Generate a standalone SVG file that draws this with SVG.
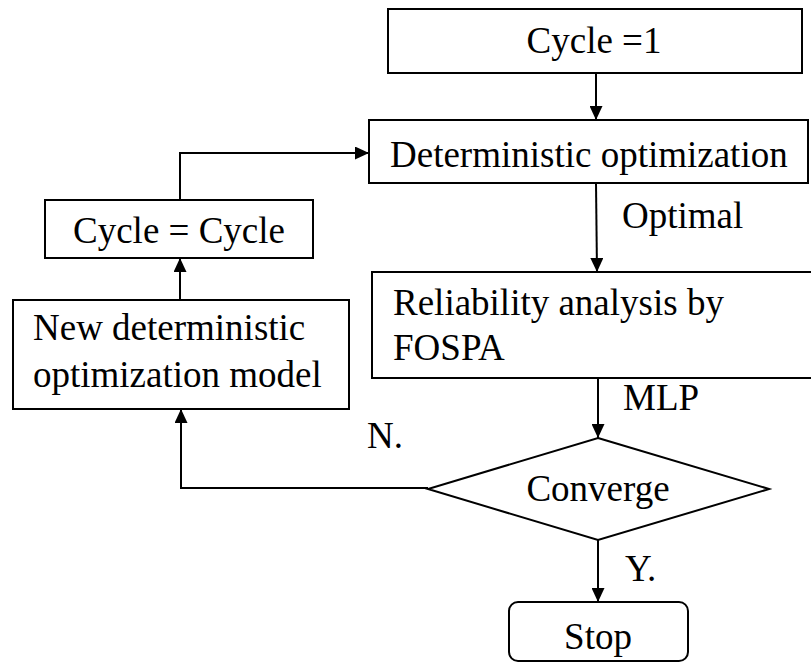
<svg xmlns="http://www.w3.org/2000/svg" width="811" height="663" viewBox="0 0 811 663">
<style>
.box{fill:#fff;stroke:#000;stroke-width:2}
.t{font-family:'Liberation Serif','Times New Roman',Times,'DejaVu Serif',serif;font-size:37px;fill:#000}
.c{text-anchor:middle}
.ln{fill:none;stroke:#000;stroke-width:2}
</style>
<defs>
<marker id="ah" markerWidth="14" markerHeight="13" refX="14" refY="6.5" orient="auto" markerUnits="userSpaceOnUse">
<path d="M0,0 L14,6.5 L0,13 Z" fill="#000"/>
</marker>
</defs>
<rect width="811" height="663" fill="#fff"/>
<g id="connectors">
<line class="ln" x1="596" y1="73" x2="596" y2="120" marker-end="url(#ah)"/>
<line class="ln" x1="596" y1="183" x2="597" y2="272" marker-end="url(#ah)"/>
<line class="ln" x1="598" y1="378" x2="598" y2="438" marker-end="url(#ah)"/>
<line class="ln" x1="598" y1="540" x2="598" y2="602" marker-end="url(#ah)"/>
<polyline class="ln" points="428,488 181,488 181,409" marker-end="url(#ah)"/>
<line class="ln" x1="180" y1="300" x2="180" y2="258" marker-end="url(#ah)"/>
<polyline class="ln" points="180,200 180,153 369,153" marker-end="url(#ah)"/>
<text class="t" x="622" y="228">Optimal</text>
<text class="t" x="623" y="410">MLP</text>
<text class="t" x="367" y="448">N.</text>
<text class="t" x="625" y="581">Y.</text>
</g>
<g id="n-cycle1">
<rect class="box" x="388" y="9" width="414" height="64"/>
<text class="t c" x="594" y="53">Cycle =1</text>
</g>
<g id="n-det">
<rect class="box" x="369" y="120" width="439" height="63"/>
<text class="t" x="390" y="167">Deterministic optimization</text>
</g>
<g id="n-rel">
<rect class="box" x="372" y="272" width="445" height="106"/>
<text class="t" x="393" y="315">Reliability analysis by</text>
<text class="t" x="393" y="360">FOSPA</text>
</g>
<g id="n-conv">
<polygon class="box" points="598,438 769,489 598,540 428,489"/>
<text class="t c" x="598" y="501">Converge</text>
</g>
<g id="n-stop">
<rect class="box" x="509" y="602" width="179" height="59" rx="9"/>
<text class="t c" x="598" y="649">Stop</text>
</g>
<g id="n-newdet">
<rect class="box" x="13" y="300" width="336" height="109"/>
<text class="t" x="33" y="340">New deterministic</text>
<text class="t" x="33" y="387">optimization model</text>
</g>
<g id="n-cycle">
<rect class="box" x="45" y="200" width="268" height="58"/>
<text class="t c" x="179" y="243">Cycle = Cycle</text>
</g>
</svg>
